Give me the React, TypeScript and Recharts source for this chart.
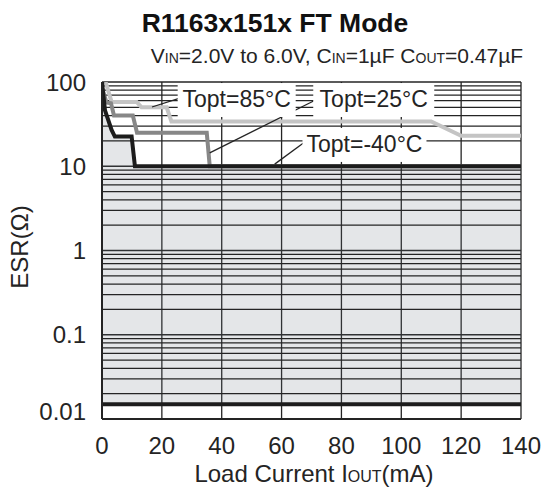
import React from 'react';
import { Area, CartesianGrid, ComposedChart, Line, ReferenceDot, ReferenceLine, XAxis, YAxis } from 'recharts';

const font = '"Liberation Sans", Arial, Helvetica, sans-serif';
const ink = '#242424';

const xTicks = [0, 20, 40, 60, 80, 100, 120, 140];
const yTicks = [0.01, 0.1, 1, 10, 100];
const yTickLabels = ['0.01', '0.1', '1', '10', '100'];

// Topt = 85°C
const current85 = [1.2, 3.2, 11.6, 13.2, 21.6, 23.2, 110, 120, 140];
const esr85 = [100, 58, 58, 50, 50, 34, 34, 23, 23];

// Topt = 25°C
const current25 = [0, 1.5, 3, 4, 10.3, 11.7, 35, 36, 140];
const esr25 = [85, 57, 56, 40, 40, 25, 25, 10, 10];

// Topt = -40°C
const currentM40 = [0, 1, 3.2, 4.3, 9.9, 11, 140];
const esrM40 = [100, 46, 27, 22.5, 22.5, 10, 10];

// lower stable limit
const esrLower = 0.015;

const toPoints = (xs: number[], ys: number[]) => xs.map((x, i) => ({ x, y: ys[i] }));
const pts85 = toPoints(current85, esr85);
const pts25 = toPoints(current25, esr25);
const ptsM40 = toPoints(currentM40, esrM40);

// log grid: 2..9 in each decade (decades come from the axis ticks)
const yMinor: number[] = [];
[0.01, 0.1, 1, 10].forEach((d) => {
  for (let m = 2; m < 10; m++) yMinor.push(+(d * m).toPrecision(3));
});

const YTick = (props: any) => {
  const { x, y, payload } = props;
  const i = yTicks.indexOf(payload.value);
  const shift = payload.value === 0.01 ? -8 : 0;
  return (
    <text x={x} y={y + shift} dy="0.355em" textAnchor="end" fontSize={24} fill={ink} fontFamily={font}>
      {yTickLabels[i]}
    </text>
  );
};

const LabelBox = ({ cx, cy, text, w }: { cx: number; cy: number; text: string; w: number }) => (
  <g>
    <rect x={cx - w / 2} y={cy - 16} width={w} height={34} fill="#fff" />
    <text x={cx} y={cy + 8} textAnchor="middle" fontSize={23} fill={ink} fontFamily={font}>
      {text}
    </text>
  </g>
);

export default function App() {
  return (
    <div style={{ position: 'absolute', left: 0, top: 0, width: 543, height: 493, background: '#fff' }}>
      <ComposedChart width={543} height={493} margin={{ top: 82, right: 22, bottom: 0, left: 0 }}>
        <CartesianGrid stroke={ink} strokeWidth={1.3} />
        <XAxis
          dataKey="x"
          type="number"
          domain={[0, 140]}
          ticks={xTicks}
          allowDataOverflow
          height={74}
          tickSize={0}
          tickMargin={18}
          axisLine={{ stroke: ink, strokeWidth: 2 }}
          tick={{ fontSize: 24, fill: ink, fontFamily: font }}
        />
        <YAxis
          type="number"
          scale="log"
          domain={[0.01, 100]}
          ticks={yTicks}
          allowDataOverflow
          width={102}
          tickSize={0}
          tickMargin={16}
          axisLine={{ stroke: ink, strokeWidth: 2 }}
          tick={<YTick />}
        />
        <Area
          data={ptsM40}
          dataKey="y"
          type="linear"
          baseValue={esrLower}
          stroke="none"
          fill="#6b7280"
          fillOpacity={0.18}
          isAnimationActive={false}
        />
        {yMinor.map((v) => (
          <ReferenceLine key={v} y={v} stroke={ink} strokeWidth={1.3} />
        ))}
        <ReferenceLine y={esrLower} stroke="#1c1c1c" strokeWidth={4} />
        <Line data={pts85} dataKey="y" type="linear" stroke="#c4c4c4" strokeWidth={4} dot={false} isAnimationActive={false} />
        <Line data={pts25} dataKey="y" type="linear" stroke="#878787" strokeWidth={4} dot={false} isAnimationActive={false} />
        <Line data={ptsM40} dataKey="y" type="linear" stroke="#1c1c1c" strokeWidth={4} dot={false} isAnimationActive={false} />
        <ReferenceLine segment={[{ x: 16.7, y: 50.5 }, { x: 26, y: 64.5 }]} stroke={ink} strokeWidth={1.3} />
        <ReferenceLine segment={[{ x: 36, y: 14.4 }, { x: 70.7, y: 59.5 }]} stroke={ink} strokeWidth={1.3} />
        <ReferenceLine segment={[{ x: 57.7, y: 10.6 }, { x: 67.3, y: 18.9 }]} stroke={ink} strokeWidth={1.3} />
        <ReferenceDot x={45} y={62.8} r={0} shape={(p: any) => <LabelBox cx={p.cx} cy={p.cy} text="Topt=85°C" w={118} />} />
        <ReferenceDot x={90.8} y={62.8} r={0} shape={(p: any) => <LabelBox cx={p.cx} cy={p.cy} text="Topt=25°C" w={121} />} />
        <ReferenceDot x={87.7} y={18.4} r={0} shape={(p: any) => <LabelBox cx={p.cx} cy={p.cy} text="Topt=-40°C" w={124} />} />
      </ComposedChart>
      <svg width={543} height={493} style={{ position: 'absolute', left: 0, top: 0, pointerEvents: 'none' }}>
        <text x={275} y={32} textAnchor="middle" fontSize={26.5} fontWeight="bold" fill="#111" fontFamily={font}>
          R1163x151x FT Mode
        </text>
        <text x={337} y={63} textAnchor="middle" fontSize={21} fill={ink} fontFamily={font}>
          V<tspan fontSize={14}>IN</tspan>=2.0V to 6.0V, C<tspan fontSize={14}>IN</tspan>=1µF C
          <tspan fontSize={14}>OUT</tspan>=0.47µF
        </text>
        <text x={314} y={482} textAnchor="middle" fontSize={24} fill={ink} fontFamily={font}>
          Load Current I<tspan fontSize={16}>OUT</tspan>(mA)
        </text>
        <text x={28} y={247} transform="rotate(-90, 28, 247)" textAnchor="middle" fontSize={24} fill={ink} fontFamily={font}>
          ESR(Ω)
        </text>
      </svg>
    </div>
  );
}
